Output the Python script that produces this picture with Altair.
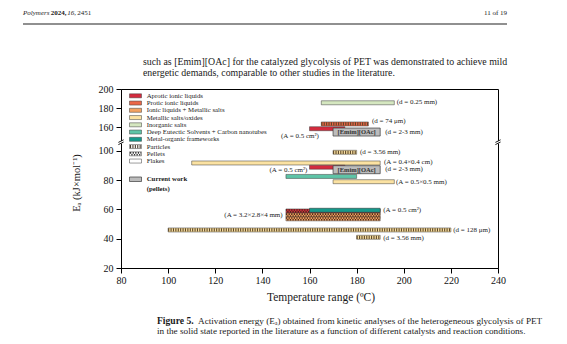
import altair as alt
import pandas as pd

SERIF = "Liberation Serif"
W, H = 377, 179

# ---------------- data ----------------
categories = ["Aprotic ionic liquids", "Protic ionic liquids", "Ionic liquids + Metallic salts",
              "Metallic salts/oxides", "Inorganic salts",
              "Deep Eutectic Solvents + Carbon nanotubes", "Metal-organic frameworks"]
cat_colors = ["#d42b3e", "#eb6748", "#f3a262", "#fbe2a2", "#d5e7c0", "#5ec4a7", "#15998b"]
textures = ["Particles", "Pellets", "Flakes"]

bar_cat = ["Inorganic salts", "Protic ionic liquids", "Aprotic ionic liquids",
           "Metallic salts/oxides", "Metallic salts/oxides", "Aprotic ionic liquids",
           "Deep Eutectic Solvents + Carbon nanotubes", "Metallic salts/oxides",
           "Aprotic ionic liquids", "Ionic liquids + Metallic salts", "Ionic liquids + Metallic salts",
           "Metal-organic frameworks", "Metallic salts/oxides", "Metallic salts/oxides"]
bar_tex = ["Flakes", "Particles", "Flakes", "Particles", "Flakes", "Flakes", "Flakes", "Flakes",
           "Pellets", "Pellets", "Pellets", "Flakes", "Particles", "Particles"]
bar_t1 = [165, 165, 160, 170, 110, 160, 150, 170, 150, 150, 150, 160, 100, 180]
bar_t2 = [196, 185, 175, 180, 190, 175, 180, 196, 190, 190, 190, 190, 220, 190]
bar_ea = [185.5, 163.2, 158.2, 99.1, 91.8, 88.9, 82.6, 79.0, 59.0, 56.2, 53.6, 59.5, 46.0, 41.0]

cw_t1 = [170, 170]
cw_t2 = [190, 190]
cw_ea = [154.7, 87.2]
cw_name = ["[Emim][OAc]", "[Emim][OAc]"]

ann_text = ["(d = 0.25 mm)", "(d = 74 μm)", "(A = 0.5 cm²)", "(d = 2-3 mm)", "(d = 3.56 mm)",
            "(A = 0.4×0.4 cm)", "(A = 0.5 cm²)", "(d = 2-3 mm)", "(A = 0.5×0.5 mm)",
            "(A = 0.5 cm²)", "(A = 3.2×2.8×4 mm)", "(d = 128 μm)", "(d = 3.56 mm)"]
ann_t = [197.0, 186.5, 164.0, 192.1, 181.4, 191.6, 159.1, 192.1, 196.7, 191.3, 148.6, 221.0, 191.3]
ann_ea = [186.3, 166.3, 150.5, 154.7, 99.1, 92.7, 87.0, 87.5, 79.0, 59.7, 56.0, 46.2, 40.6]
ann_align = ["left", "left", "right", "left", "left", "left", "right", "left", "left",
             "left", "right", "left", "left"]

x_ticks = [80, 100, 120, 140, 160, 180, 200, 220, 240]
y_ticks = [20, 40, 60, 80, 100, 160, 180, 200]

header_text = "11 of 19"
body_lines = ["such as [Emim][OAc] for the catalyzed glycolysis of PET was demonstrated to achieve mild",
              "energetic demands, comparable to other studies in the literature."]
caption_1 = "Activation energy (Eₐ) obtained from kinetic analyses of the heterogeneous glycolysis of PET"
caption_2 = "in the solid state reported in the literature as a function of different catalysts and reaction conditions."

# ---------------- tables ----------------
bars_df = pd.DataFrame(dict(cat=bar_cat, tex=bar_tex, t1=bar_t1, t2=bar_t2, ea=bar_ea))
cw_df = pd.DataFrame(dict(t1=cw_t1, t2=cw_t2, ea=cw_ea, name=cw_name))
ann_df = pd.DataFrame(dict(text=ann_text, t=ann_t, ea=ann_ea, align=ann_align))
one = pd.DataFrame({"k": [0]})

xs = alt.Scale(domain=[80, 240], nice=False, zero=False, padding=0)
ys = alt.Scale(domain=[20, 106, 144, 200], range=[H, 53.2, 53.2, 0], nice=False, zero=False, padding=0)
ax_x = alt.Axis(values=x_ticks, title=None, grid=False, tickSize=5, tickColor="#000",
                domainColor="#000", labelFont=SERIF, labelFontSize=10, labelColor="#111",
                labelPadding=2, format="d", labelFlush=False)
ax_y = alt.Axis(values=y_ticks, title=None, grid=False, tickSize=5, tickColor="#000",
                domainColor="#000", labelFont=SERIF, labelFontSize=10, labelColor="#111",
                labelPadding=3, format="d", labelFlush=False, labelOverlap=False)

def X(f):
    return alt.X(f, scale=xs, axis=ax_x)

def Y(f):
    return alt.Y(f, scale=ys, axis=ax_y)

fill = alt.Fill("cat:N", scale=alt.Scale(domain=categories, range=cat_colors), legend=None)
MOF = "Metal-organic frameworks"
base = alt.Chart(bars_df)
enc = dict(x=X("t1:Q"), x2="t2:Q", y=Y("ea:Q"))

layers = []
layers.append(base.transform_filter(alt.datum.cat != MOF)
              .mark_bar(size=4, stroke="#3b3b3b", strokeWidth=0.5).encode(fill=fill, **enc))
layers.append(base.transform_filter(alt.datum.tex == "Particles")
              .mark_rule(strokeWidth=3.2, strokeDash=[1.1, 1.3], color="#5b4528").encode(**enc))
layers.append(base.transform_filter(alt.datum.tex == "Pellets")
              .mark_rule(strokeWidth=1.6, strokeDash=[1.3, 1.3], color="#4a2a1a", yOffset=-0.9).encode(**enc))
layers.append(base.transform_filter(alt.datum.tex == "Pellets")
              .mark_rule(strokeWidth=1.6, strokeDash=[1.3, 1.3], strokeDashOffset=1.3,
                         color="#4a2a1a", yOffset=0.9).encode(**enc))
layers.append(base.transform_filter(alt.datum.cat == MOF)
              .mark_bar(size=4, stroke="#3b3b3b", strokeWidth=0.5).encode(fill=fill, **enc))
layers.append(alt.Chart(cw_df).mark_bar(size=8, fill="#bcbcbc", stroke="#3b3b3b", strokeWidth=0.7)
              .encode(x=X("t1:Q"), x2="t2:Q", y=Y("ea:Q")))
layers.append(alt.Chart(cw_df).transform_calculate(tm="(datum.t1 + datum.t2) / 2")
              .mark_text(font=SERIF, fontSize=6.5, fontWeight="bold", color="#333", baseline="middle")
              .encode(x=X("tm:Q"), y=Y("ea:Q"), text="name:N"))
for al in ["left", "right"]:
    layers.append(alt.Chart(ann_df).transform_filter(alt.datum.align == al)
                  .mark_text(align=al, baseline="middle", font=SERIF, fontSize=7, color="#222")
                  .encode(x=X("t:Q"), y=Y("ea:Q"), text="text:N"))

# ---------------- helpers for decorations ----------------
def txt(s, x, y, size=7.0, weight="normal", style="normal", align="left", angle=0, color="#1a1a1a"):
    kw = dict(text=s, fontSize=size, fontWeight=weight, fontStyle=style, align=align,
              baseline="middle", font=SERIF, color=color)
    if angle:
        kw["angle"] = angle
    return alt.Chart(one).mark_text(**kw).encode(x=alt.value(x), y=alt.value(y))

def box(x1, x2, y1, y2, fill_c, stroke="#3b3b3b", sw=0.5):
    kw = dict(fill=fill_c, strokeWidth=sw)
    if stroke:
        kw["stroke"] = stroke
    else:
        kw["strokeWidth"] = 0
    return alt.Chart(one).mark_rect(**kw).encode(x=alt.value(x1), x2=alt.value(x2),
                                                 y=alt.value(y1), y2=alt.value(y2))

def line(x1, y1, x2, y2, color="#000", sw=1.0, dash=None, dash_off=None):
    kw = dict(color=color, strokeWidth=sw)
    if dash:
        kw["strokeDash"] = dash
    if dash_off:
        kw["strokeDashOffset"] = dash_off
    return alt.Chart(one).mark_rule(**kw).encode(x=alt.value(x1), x2=alt.value(x2),
                                                 y=alt.value(y1), y2=alt.value(y2))

# ---------------- legend ----------------
leg_labels = categories + textures
leg_fill = cat_colors + ["#ffffff", "#ffffff", "#ffffff"]
for i, lab in enumerate(leg_labels):
    yc = 6.8 + i * 7.25
    layers.append(box(8.5, 20.5, yc - 2, yc + 2, leg_fill[i]))
    if lab == "Particles":
        layers.append(line(9, yc, 20, yc, color="#4a3a2a", sw=3.2, dash=[1.1, 1.3]))
    if lab == "Pellets":
        layers.append(line(9, yc - 0.9, 20, yc - 0.9, color="#333", sw=1.6, dash=[1.3, 1.3]))
        layers.append(line(9, yc + 0.9, 20, yc + 0.9, color="#333", sw=1.6, dash=[1.3, 1.3], dash_off=1.3))
    layers.append(txt(lab, 25.7, yc, size=6.8))
layers.append(box(8.5, 20.5, 88, 92.5, "#bcbcbc", sw=0.7))
layers.append(txt("Current work", 25.7, 90.3, size=6.8, weight="bold"))
layers.append(txt("(pellets)", 25.7, 99.7, size=6.8, weight="bold"))

# ---------------- axis break marks ----------------
for bx in [0, W]:
    layers.append(box(bx - 2, bx + 2, 51.8, 54.6, "#ffffff", stroke=None))
    layers.append(line(bx - 2.6, 55.6, bx + 2.6, 53.0, sw=0.9))
    layers.append(line(bx - 2.6, 53.4, bx + 2.6, 50.8, sw=0.9))

# ---------------- axis titles ----------------
layers.append(txt("Eₐ (kJ×mol⁻¹)", -44, 94, size=10.5, align="center", angle=270))
layers.append(txt("Temperature range (ºC)", 200, 208.5, size=11.5, align="center"))

# ---------------- page text ----------------
layers.append(txt("Polymers", -98, -76, size=7, style="italic"))
layers.append(txt("2024,", -70.3, -76, size=7, weight="bold"))
layers.append(txt("16,", -53.7, -76, size=7, style="italic"))
layers.append(txt("2451", -43.7, -76, size=7))
layers.append(txt(header_text, 386, -76, size=7, align="right"))
layers.append(line(-98, -65, 386, -65, color="#222", sw=1.2))
layers.append(txt(body_lines[0], 22, -27.3, size=9.85))
layers.append(txt(body_lines[1], 22, -16, size=9.85))
layers.append(txt("Figure 5.", 36, 231.5, size=9.6, weight="bold"))
layers.append(txt(caption_1, 77, 231.5, size=9.2))
layers.append(txt(caption_2, 36, 241.5, size=9.2))

chart = (alt.layer(*layers)
         .properties(width=W, height=H, autosize=alt.AutoSizeParams(type="none"),
                     padding={"left": 121, "top": 89, "right": 69, "bottom": 76},
                     background="white")
         .configure_view(stroke="#000", strokeWidth=1))

chart.save("out.html", embed_options={"renderer": "svg", "actions": False})
